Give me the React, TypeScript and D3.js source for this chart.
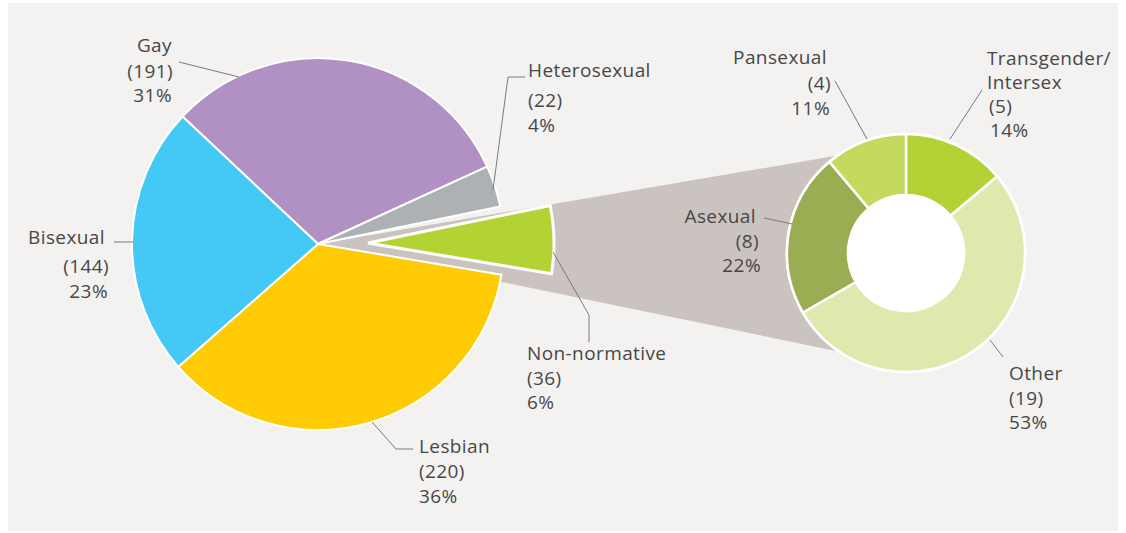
import React from "react";
import * as d3 from "d3";

// ---- data ----
const pieCategories = ["Gay", "Heterosexual", "Non-normative", "Lesbian", "Bisexual"];
const pieValues = [191, 22, 36, 220, 144];
const piePercents = ["31%", "4%", "6%", "36%", "23%"];
const pieColors = ["#b190c4", "#adb1b3", "#b3d334", "#ffcb05", "#44c8f5"];

const donutCategories = ["Transgender/\nIntersex", "Other", "Asexual", "Pansexual"];
const donutValues = [5, 19, 8, 4];
const donutPercents = ["14%", "53%", "22%", "11%"];
const donutColors = ["#b3d235", "#dfe9ae", "#9bad52", "#c3da5e"];

// ---- layout ----
const W = 1126, H = 533;
const pieC = { x: 318, y: 244 };
const pieR = 186;
const explodeIndex = 2;
const explodeDist = 50;
const donutC = { x: 906, y: 253 };
const donutR = 119;
const donutInner = 58;
const connectorAngles = [325, 214];

type LabelLayout = {
  anchor: "start" | "end";
  lines: { x: number; y: number }[];
  leader: [number, number][];
};

const pieLabelLayout: LabelLayout[] = [
  { anchor: "end", lines: [{ x: 172, y: 52 }, { x: 173, y: 78 }, { x: 172, y: 102 }], leader: [[179, 62], [239, 77]] },
  { anchor: "start", lines: [{ x: 528, y: 77 }, { x: 528, y: 107 }, { x: 528, y: 132 }], leader: [[493, 190], [508, 77], [525, 77]] },
  { anchor: "start", lines: [{ x: 527, y: 360 }, { x: 527, y: 385 }, { x: 527, y: 409 }], leader: [[553, 252], [589, 315], [589, 342]] },
  { anchor: "start", lines: [{ x: 419, y: 453 }, { x: 419, y: 478 }, { x: 419, y: 503 }], leader: [[372, 422], [396, 449], [413, 449]] },
  { anchor: "end", lines: [{ x: 105, y: 244 }, { x: 109, y: 273 }, { x: 108, y: 298 }], leader: [[114, 242], [133, 242]] },
];

const donutLabelLayout: LabelLayout[] = [
  { anchor: "start", lines: [{ x: 987, y: 65 }, { x: 987, y: 89 }, { x: 989, y: 113 }, { x: 990, y: 137 }], leader: [[982, 90], [950, 139]] },
  { anchor: "start", lines: [{ x: 1009, y: 380 }, { x: 1009, y: 405 }, { x: 1009, y: 429 }], leader: [[990, 340], [1003, 357]] },
  { anchor: "end", lines: [{ x: 756, y: 223 }, { x: 759, y: 248 }, { x: 761, y: 272 }], leader: [[764, 218], [792, 224]] },
  { anchor: "end", lines: [{ x: 827, y: 64 }, { x: 831, y: 90 }, { x: 830, y: 115 }], leader: [[835, 81], [867, 139]] },
];

const textColor = "#474747";
const leaderColor = "#7a7a7a";
const fontFamily = "'Open Sans', 'Noto Sans', sans-serif";

function Label({ layout, texts }: { layout: LabelLayout; texts: string[] }) {
  return (
    <g>
      <path
        d={d3.line()(layout.leader) || ""}
        fill="none"
        stroke={leaderColor}
        strokeWidth={1}
      />
      {texts.map((t, i) => (
        <text
          key={i}
          x={layout.lines[i].x}
          y={layout.lines[i].y}
          textAnchor={layout.anchor}
          fill={textColor}
          fontSize={19}
          fontFamily={fontFamily}
          letterSpacing={0.4}
        >
          {t}
        </text>
      ))}
    </g>
  );
}

export default function App() {
  const pie = d3.pie<number>().sort(null)
    .startAngle((-46.75 * Math.PI) / 180)
    .endAngle((-46.75 * Math.PI) / 180 + 2 * Math.PI);
  const pieArcs = pie(pieValues);
  const arc = d3.arc<d3.PieArcDatum<number>>().innerRadius(0).outerRadius(pieR);

  const donut = d3.pie<number>().sort(null);
  const donutArcs = donut(donutValues);
  const dArc = d3.arc<d3.PieArcDatum<number>>().innerRadius(donutInner).outerRadius(donutR);

  const ex = pieArcs[explodeIndex];
  const exMid = (ex.startAngle + ex.endAngle) / 2;
  const exDx = Math.sin(exMid) * explodeDist;
  const exDy = -Math.cos(exMid) * explodeDist;

  const connectorPts: [number, number][] = [
    [pieC.x, pieC.y],
    [donutC.x + donutR * Math.sin((connectorAngles[0] * Math.PI) / 180), donutC.y - donutR * Math.cos((connectorAngles[0] * Math.PI) / 180)],
    [donutC.x, donutC.y],
    [donutC.x + donutR * Math.sin((connectorAngles[1] * Math.PI) / 180), donutC.y - donutR * Math.cos((connectorAngles[1] * Math.PI) / 180)],
  ];

  return (
    <svg width={W} height={H} style={{ position: "absolute", left: 0, top: 0, background: "#ffffff" }}>
      <rect x={8} y={3} width={1110} height={528} fill="#f3f2f0" />
      <polygon points={connectorPts.map((p) => p.join(",")).join(" ")} fill="#cbc3c0" />
      <g transform={`translate(${pieC.x},${pieC.y})`}>
        {pieArcs.map((a, i) =>
          i === explodeIndex ? null : (
            <path key={i} d={arc(a) || ""} fill={pieColors[i]} stroke="#ffffff" strokeWidth={2} strokeLinejoin="round" />
          )
        )}
        <path
          d={arc(ex) || ""}
          transform={`translate(${exDx},${exDy})`}
          fill={pieColors[explodeIndex]}
          stroke="#ffffff"
          strokeWidth={3}
          strokeLinejoin="miter"
        />
      </g>
      <g transform={`translate(${donutC.x},${donutC.y})`}>
        <circle r={donutR + 1.5} fill="#ffffff" />
        {donutArcs.map((a, i) => (
          <path key={i} d={dArc(a) || ""} fill={donutColors[i]} stroke="#ffffff" strokeWidth={2.5} />
        ))}
        <circle r={donutInner} fill="#ffffff" />
      </g>
      {pieLabelLayout.map((l, i) => (
        <Label key={"p" + i} layout={l} texts={[pieCategories[i], `(${pieValues[i]})`, piePercents[i]]} />
      ))}
      {donutLabelLayout.map((l, i) => (
        <Label
          key={"d" + i}
          layout={l}
          texts={[...donutCategories[i].split("\n"), `(${donutValues[i]})`, donutPercents[i]]}
        />
      ))}
    </svg>
  );
}
